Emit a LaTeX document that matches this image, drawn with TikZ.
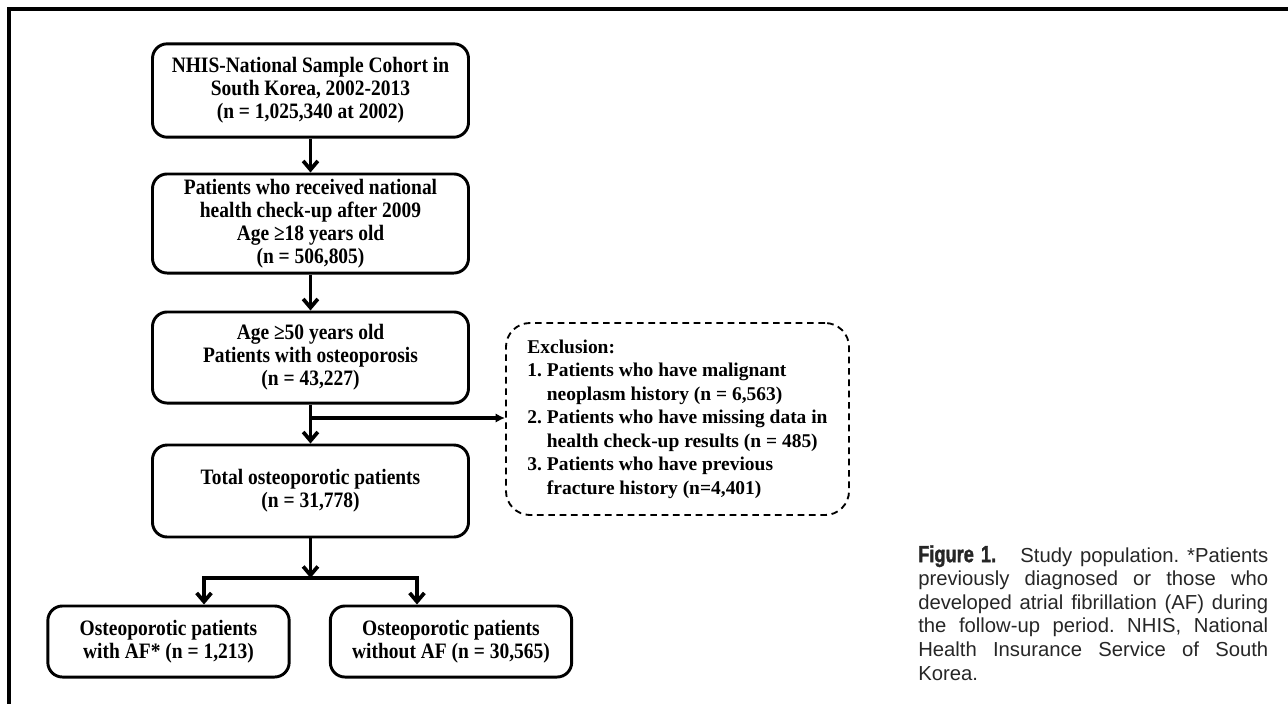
\documentclass[tikz,border=0pt]{standalone}
\usepackage{fontspec}
\setmainfont{Liberation Serif}
\newfontfamily\boxfont{Liberation Serif}[FakeStretch=0.885]
\newfontfamily\capfont{Liberation Sans}
\newfontfamily\capheadfont{Liberation Sans}[FakeStretch=0.78, FakeBold=1.5]
\usetikzlibrary{arrows.meta}

\begin{document}
\begin{tikzpicture}[x=0.75pt, y=-0.75pt,
    box/.style={draw, line width=2.2pt, rounded corners=11pt, align=center,
        inner sep=0pt, font=\boxfont\bfseries\fontsize{16.5}{17.2}\selectfont},
    mainbox/.style={box, minimum width=237pt},
    endbox/.style={box, minimum width=181pt, minimum height=53.3pt},
    exclbox/.style={draw, dashed, dash pattern=on 5pt off 3.5pt, line width=1.4pt,
        rounded corners=18pt, align=left, inner sep=0pt, minimum width=257.3pt,
        minimum height=144pt, font=\bfseries\fontsize{14.6}{17.6}\selectfont},
    flow/.style={line width=2.8pt, -{Straight Barb[length=6.5pt,width=11pt]}},
    aside/.style={line width=2.8pt, -{Latex[length=7pt,width=7pt]}},
    caption/.style={align=justify, text width=262.5pt, inner sep=0pt,
        font=\capfont\frenchspacing\fontsize{15.2}{17.7}\selectfont, text=black!85}]

    \useasboundingbox (0,0) rectangle (1288,704);

    % Frame
    \draw[line width=2.4pt] (1288,9) -- (9,9) -- (9,704);

    % Main steps
    \node[mainbox, minimum height=70pt] (cohort) at (310.5,90.5)
        {NHIS-National Sample Cohort in\\ South Korea, 2002-2013\\ (n = 1,025,340 at 2002)};
    \node[mainbox, minimum height=74.3pt] (checkup) at (310.5,223.5)
        {Patients who received national\\ health check-up after 2009\\ Age ≥18 years old\\ (n = 506,805)};
    \node[mainbox, minimum height=68.3pt] (osteo) at (310.5,357.5)
        {Age ≥50 years old\\ Patients with osteoporosis\\ (n = 43,227)};
    \node[mainbox, minimum height=69pt] (total) at (310.5,491)
        {Total osteoporotic patients\\ (n = 31,778)};

    % Groups
    \node[endbox] (withaf) at (168.5,641.5) {Osteoporotic patients\\ with AF* (n = 1,213)};
    \node[endbox] (noaf) at (451,641.5) {Osteoporotic patients\\ without AF (n = 30,565)};

    % Exclusions
    \node[exclbox] (excl) at (677.5,419)
        {Exclusion:\\
         1.\ Patients who have malignant\\
         \phantom{1.\ }neoplasm history (n = 6,563)\\
         2.\ Patients who have missing data in\\
         \phantom{2.\ }health check-up results (n = 485)\\
         3.\ Patients who have previous\\
         \phantom{3.\ }fracture history (n=4,401)};

    % Arrows
    \coordinate (branch) at (310.5,418);
    \coordinate (split) at (310.5,578);
    \coordinate (splitL) at (204,578);
    \coordinate (splitR) at (417,578);
    \draw[flow] (cohort) -- (checkup);
    \draw[flow] (checkup) -- (osteo);
    \draw[flow] (osteo) -- (total);
    \draw[aside] (branch) -- (branch -| excl.west);
    \draw[flow] (total) -- (split);
    \draw[flow, {Straight Barb[length=6.5pt,width=11pt]}-{Straight Barb[length=6.5pt,width=11pt]}]
        (splitL |- withaf.north) -- (splitL) -- (splitR) -- (splitR |- noaf.north);

    % Caption
    \node[caption, anchor=north west] (cap) at (918,545)
        {{\capheadfont\bfseries\fontsize{17.5}{17.7}\selectfont Figure 1.}\hspace{1.2em}Study population. *Patients\linebreak
         previously diagnosed or those who\linebreak
         developed atrial fibrillation (AF) during\linebreak
         the follow-up period. NHIS, National\linebreak
         Health Insurance Service of South\linebreak
         Korea.};
\end{tikzpicture}
\end{document}
